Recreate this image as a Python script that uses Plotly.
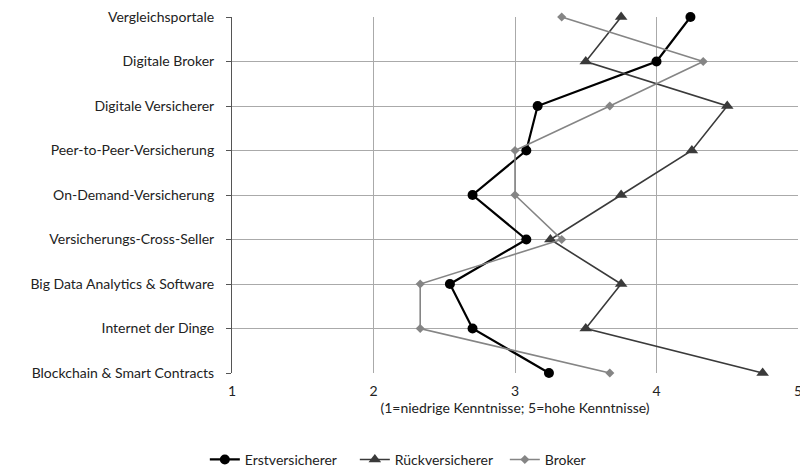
import plotly.graph_objects as go

categories = [
    "Vergleichsportale",
    "Digitale Broker",
    "Digitale Versicherer",
    "Peer-to-Peer-Versicherung",
    "On-Demand-Versicherung",
    "Versicherungs-Cross-Seller",
    "Big Data Analytics & Software",
    "Internet der Dinge",
    "Blockchain & Smart Contracts",
]
erstversicherer = [4.24, 4.0, 3.16, 3.08, 2.70, 3.08, 2.54, 2.70, 3.24]
rueckversicherer = [3.75, 3.5, 4.5, 4.25, 3.75, 3.25, 3.75, 3.5, 4.75]
broker = [3.33, 4.33, 3.67, 3.0, 3.0, 3.33, 2.33, 2.33, 3.67]
x_ticks = [1, 2, 3, 4, 5]

FONT = "Lato, 'Open Sans', sans-serif"

fig = go.Figure()
fig.add_trace(go.Scatter(
    x=erstversicherer, y=categories, name="Erstversicherer", mode="lines+markers",
    line=dict(color="#000000", width=2.2), cliponaxis=False,
    marker=dict(symbol="circle", size=10, color="#000000"),
))
fig.add_trace(go.Scatter(
    x=rueckversicherer, y=categories, name="Rückversicherer", mode="lines+markers",
    line=dict(color="#3a3a3a", width=1.6), cliponaxis=False,
    marker=dict(symbol="triangle-up", size=11, color="#3a3a3a"),
))
fig.add_trace(go.Scatter(
    x=broker, y=categories, name="Broker", mode="lines+markers",
    line=dict(color="#858585", width=1.6), cliponaxis=False,
    marker=dict(symbol="diamond", size=7, color="#858585"),
))

fig.update_layout(
    width=800, height=463,
    margin=dict(l=224, r=10, t=9, b=98, autoexpand=False),
    paper_bgcolor="white", plot_bgcolor="white",
    font=dict(family=FONT, size=14, color="#222222"),
    showlegend=True,
    legend=dict(orientation="h", x=-0.048, xanchor="left", y=-0.244, yanchor="middle",
                font=dict(size=14, color="#222222"),
                entrywidth=105, entrywidthmode="pixels",
                itemwidth=30, traceorder="normal"),
    xaxis=dict(
        range=[1, 5], tickvals=x_ticks, ticktext=[str(v) for v in x_ticks],
        showgrid=True, gridcolor="#aaaaaa", gridwidth=1, automargin=False,
        zeroline=False, showline=False, ticks="", ticklabelstandoff=8,
        title=dict(text="(1=niedrige Kenntnisse; 5=hohe Kenntnisse)", standoff=4,
                   font=dict(size=14)),
    ),
    yaxis=dict(
        categoryorder="array", categoryarray=categories, autorange=False,
        range=[8, 0], automargin=False,
        showgrid=True, gridcolor="#aaaaaa", gridwidth=1,
        showline=True, linecolor="#555555", linewidth=1,
        ticks="outside", ticklen=5, tickcolor="#555555",
        zeroline=False, ticklabelstandoff=9,
    ),
)

fig.write_html("out.html")
